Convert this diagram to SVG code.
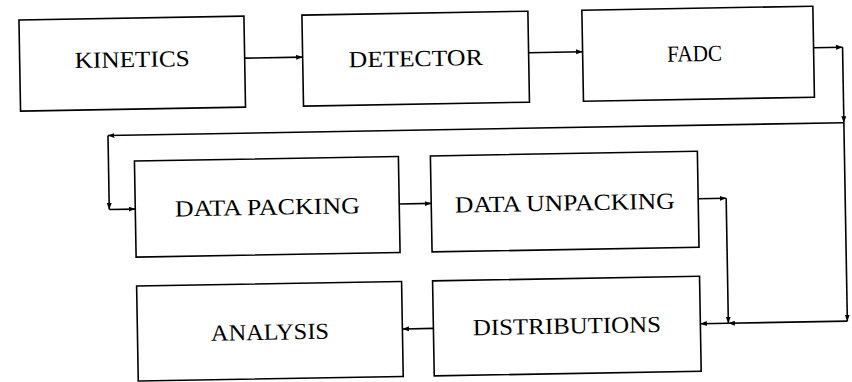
<svg xmlns="http://www.w3.org/2000/svg" width="852" height="382" viewBox="0 0 852 382">
<style>
.box{fill:#fff;stroke:#000;stroke-width:1.6}
.lbl{font-family:"Liberation Serif","Times New Roman",serif;font-size:23px;fill:#000;text-anchor:middle}
.ln{fill:none;stroke:#000;stroke-width:1.6;marker-end:url(#arr)}
</style>
<defs>
<marker id="arr" markerWidth="7" markerHeight="6" refX="6.5" refY="3" orient="auto" markerUnits="userSpaceOnUse">
<path d="M0,0.5 L6.5,3 L0,5.5 z" fill="#000"/>
</marker>
</defs>
<rect width="852" height="382" fill="#fff"/>
<g transform="rotate(-1 426 191)">
<g id="connectors">
<line class="ln" x1="247" y1="55" x2="305" y2="55"/>
<line class="ln" x1="531" y1="54.5" x2="585" y2="54.5"/>
<line class="ln" x1="816" y1="54.5" x2="845" y2="54.5"/>
<line class="ln" x1="845" y1="54.5" x2="845" y2="130"/>
<line class="ln" x1="845" y1="130" x2="109" y2="130"/>
<line class="ln" x1="109" y1="130" x2="109" y2="204"/>
<line class="ln" x1="109" y1="204" x2="135" y2="204"/>
<line class="ln" x1="399" y1="203.5" x2="431" y2="203.5"/>
<line class="ln" x1="698" y1="203.5" x2="726" y2="203.5"/>
<line class="ln" x1="726" y1="203.5" x2="726" y2="328.5"/>
<line class="ln" x1="845" y1="130" x2="845" y2="328.5"/>
<line class="ln" x1="845" y1="328.5" x2="726" y2="328.5"/>
<line class="ln" x1="726" y1="328.5" x2="698" y2="328.5"/>
<line class="ln" x1="431" y1="328.5" x2="400" y2="328.5"/>
</g>
<g id="kinetics">
<rect class="box" x="22" y="13" width="225" height="91"/>
<text class="lbl" x="134.5" y="62" textLength="115" lengthAdjust="spacingAndGlyphs">KINETICS</text>
</g>
<g id="detector">
<rect class="box" x="305" y="13" width="226" height="91"/>
<text class="lbl" x="418" y="66" textLength="134" lengthAdjust="spacingAndGlyphs">DETECTOR</text>
</g>
<g id="fadc">
<rect class="box" x="585" y="13" width="231" height="91"/>
<text class="lbl" x="697" y="66" textLength="55" lengthAdjust="spacingAndGlyphs">FADC</text>
</g>
<g id="data-packing">
<rect class="box" x="135" y="156" width="264" height="96"/>
<text class="lbl" x="267" y="212" textLength="185" lengthAdjust="spacingAndGlyphs">DATA PACKING</text>
</g>
<g id="data-unpacking">
<rect class="box" x="431" y="156" width="267" height="96"/>
<text class="lbl" x="564.5" y="213" textLength="220" lengthAdjust="spacingAndGlyphs">DATA UNPACKING</text>
</g>
<g id="analysis">
<rect class="box" x="135" y="281" width="265" height="95"/>
<text class="lbl" x="267.5" y="337" textLength="118" lengthAdjust="spacingAndGlyphs">ANALYSIS</text>
</g>
<g id="distributions">
<rect class="box" x="431" y="281" width="267" height="95"/>
<text class="lbl" x="564.5" y="336" textLength="188" lengthAdjust="spacingAndGlyphs">DISTRIBUTIONS</text>
</g>
</g>
</svg>
